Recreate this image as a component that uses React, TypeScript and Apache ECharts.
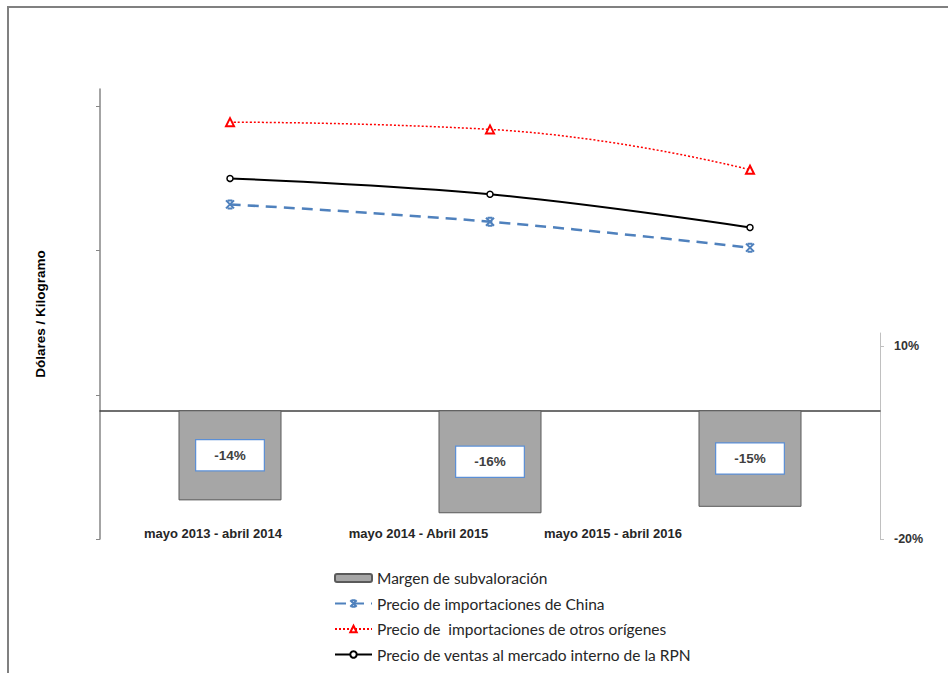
import React, { useEffect, useRef } from "react";
import * as echarts from "echarts";

const categories = ["mayo 2013 - abril 2014", "mayo 2014 - Abril 2015", "mayo 2015 - abril 2016"];
const margenSubvaloracion = [-14, -16, -15];
const precioChina = [2.32, 2.2, 2.02];
const precioOtros = [2.89, 2.84, 2.56];
const precioRPN = [2.5, 2.39, 2.16];
const leftTickValues = [0, 1, 2, 3];
const rightTickValues = [-20, 10];
const seriesNames = [
  "Margen de subvaloración",
  "Precio de importaciones de China",
  "Precio de  importaciones de otros orígenes",
  "Precio de ventas al mercado interno de la RPN",
];
const yAxisName = "Dólares / Kilogramo";

// label horizontal shifts (style only)
const labelRightPad = [34, 143, 274];

const BOLD_FONT = "Liberation Sans";

export default function App() {
  const ref = useRef<HTMLDivElement>(null);
  useEffect(() => {
    const chart = echarts.init(ref.current!, null, { renderer: "svg" });
    const rich: Record<string, any> = {};
    labelRightPad.forEach((p, i) => {
      rich["c" + i] = {
        fontFamily: BOLD_FONT,
        fontWeight: "bold",
        fontSize: 13,
        color: "#262626",
        padding: [0, p, 0, 0],
      };
    });
    chart.setOption({
      animation: false,
      backgroundColor: "#ffffff",
      graphic: [
        {
          type: "rect",
          silent: true,
          shape: { x: 8, y: 7, width: 1200, height: 1000 },
          style: { fill: "none", stroke: "#808080", lineWidth: 2 },
        },
      ],
      grid: [
        { left: 100, right: 68, top: 89, bottom: 134 },
        { left: 100, right: 68, top: 333, bottom: 134 },
      ],
      xAxis: [
        {
          type: "category",
          gridIndex: 0,
          data: categories,
          axisLine: { show: false },
          axisTick: { show: false },
          axisLabel: {
            interval: 0,
            margin: -12,
            formatter: (v: string, i: number) => `{c${i}|${v}}`,
            rich,
          },
        },
        {
          type: "category",
          gridIndex: 1,
          data: categories,
          axisLine: { show: true, onZero: true, lineStyle: { color: "#404040", width: 1.5 } },
          axisTick: { show: false },
          axisLabel: { show: false },
        },
      ],
      yAxis: [
        {
          type: "value",
          gridIndex: 0,
          min: 0,
          max: 3.12,
          interval: 1,
          name: yAxisName,
          nameLocation: "middle",
          nameGap: 53,
          nameTextStyle: {
            fontFamily: "Liberation Sans",
            fontWeight: "bold",
            fontSize: 13.5,
            color: "#000",
          },
          axisLine: { show: true, lineStyle: { color: "#868686", width: 1.5 } },
          axisTick: { show: true, length: 4, customValues: leftTickValues, lineStyle: { color: "#868686" } },
          axisLabel: { show: false },
          splitLine: { show: false },
        },
        {
          type: "value",
          gridIndex: 1,
          position: "right",
          min: -20,
          max: 12,
          interval: 30,
          axisLine: { show: true, lineStyle: { color: "#c0c0c0", width: 1 } },
          axisTick: { show: true, length: 4, customValues: rightTickValues, lineStyle: { color: "#c0c0c0" } },
          axisLabel: {
            customValues: rightTickValues,
            formatter: (v: number) => `${v}%`,
            margin: 14,
            fontFamily: BOLD_FONT,
            fontWeight: "bold",
            fontSize: 12.5,
            color: "#333",
          },
          splitLine: { show: false },
        },
      ],
      legend: {
        orient: "vertical",
        left: 329,
        top: 565,
        itemWidth: 37,
        itemHeight: 8,
        itemGap: 9.5,
        textStyle: { fontFamily: "Lato", fontSize: 15.5, color: "#262626" },
        data: seriesNames,
      },
      series: [
        {
          name: seriesNames[0],
          type: "bar",
          xAxisIndex: 1,
          yAxisIndex: 1,
          data: margenSubvaloracion,
          barWidth: 103,
          itemStyle: { color: "#a6a6a6", borderColor: "#5a5a5a", borderWidth: 1 },
          label: {
            show: true,
            position: "inside",
            formatter: "{c}%",
            backgroundColor: "#ffffff",
            borderColor: "#5b8fd6",
            borderWidth: 1.2,
            padding: [8, 18, 8, 18],
            fontFamily: BOLD_FONT,
            fontWeight: "bold",
            fontSize: 13.5,
            color: "#404040",
          },
        },
        {
          name: seriesNames[1],
          type: "line",
          xAxisIndex: 0,
          yAxisIndex: 0,
          data: precioChina,
          smooth: 0.4,
          symbol: "path://M0,0L10,10M10,0L0,10M2,0L8,0M2,10L8,10",
          symbolSize: 8,
          lineStyle: { color: "#4f81bd", width: 2.5, type: [11, 7] },
          itemStyle: { color: "none", borderColor: "#4f81bd", borderWidth: 2 },
        },
        {
          name: seriesNames[2],
          type: "line",
          xAxisIndex: 0,
          yAxisIndex: 0,
          data: precioOtros,
          smooth: 0.5,
          symbol: "triangle",
          symbolSize: 8,
          lineStyle: { color: "#ff0000", width: 1.5, type: [2, 2] },
          itemStyle: { color: "#ffffff", borderColor: "#ff0000", borderWidth: 2 },
        },
        {
          name: seriesNames[3],
          type: "line",
          xAxisIndex: 0,
          yAxisIndex: 0,
          data: precioRPN,
          smooth: 0.4,
          symbol: "circle",
          symbolSize: 6,
          lineStyle: { color: "#000000", width: 2 },
          itemStyle: { color: "#ffffff", borderColor: "#000000", borderWidth: 1.5 },
        },
      ],
    });
    return () => chart.dispose();
  }, []);
  return (
    <div
      ref={ref}
      style={{ position: "fixed", left: 0, top: 0, width: 948, height: 673, background: "#fff" }}
    />
  );
}
